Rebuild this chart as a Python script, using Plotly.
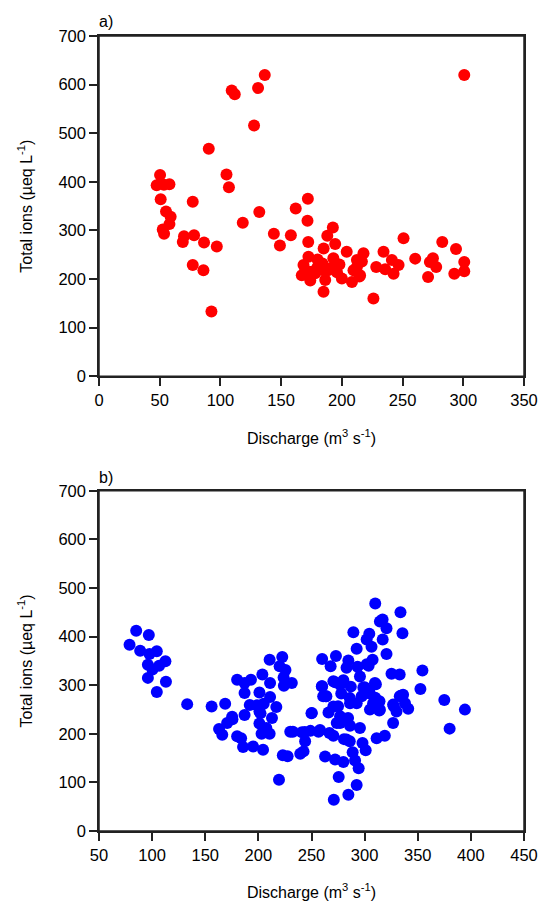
import plotly.graph_objects as go
from plotly.subplots import make_subplots

# Panel a) discharge (m3 s-1) and total ions (ueq L-1)
q_a = [300.8, 136.5, 131, 109.3, 111.8, 127.7, 90.4, 50.3, 47.5, 53.5, 58, 50.8, 105, 107,
       55.2, 59, 58, 52.5, 53.6, 77.2, 132, 118.4, 70, 69, 78.3, 86.5, 97, 77.2, 86, 92.6,
       144, 149, 158, 162, 172, 171.7, 172.3, 192.6, 188, 194.5, 185, 172.5, 180, 168.4,
       167, 174, 184.9, 190.4, 193, 204, 217.8, 212.4, 216.5, 208.3, 200, 186.3, 184.9,
       215, 178, 184, 170, 175, 228.3, 234.3, 241.2, 246.7, 242.6, 235.7, 250.8, 260.4,
       226, 275, 272.5, 277.7, 271, 282.7, 294, 300.8, 292.6, 300.8, 209.6, 214.5, 212.4,
       198, 180, 196, 188.5]
v_a = [620, 620, 593, 588, 580, 516, 468, 414, 393, 394, 395, 364, 415, 389,
       339, 328, 313, 302, 293, 359, 338, 316, 288, 276, 290, 275, 267, 229, 218, 133,
       293, 269, 290, 345, 365, 320, 276, 306, 289, 272, 263, 246, 240, 229,
       208, 197, 218, 222, 243, 256, 253, 225, 236, 194, 201, 198, 174,
       208, 212, 232, 218, 215, 225, 256, 239, 229, 211, 220, 284, 242,
       160, 243, 235, 225, 204, 276, 262, 235, 211, 216, 218, 205, 239,
       230, 225, 214, 218]

# Panel b)
q_b = [85, 96.9, 78.75, 88.75, 97.5, 104.4, 112.5, 96, 106.6, 100.3, 96, 113, 104.4,
       133, 156, 168.75, 163, 166, 170.6, 175.6,
       180, 187, 193, 203.75, 210.6, 222.5, 220, 225.5, 223.75, 224, 211,
       187, 201, 211, 191.9, 198.75, 205, 216.9, 201, 187, 212.8, 201, 207.5, 203, 210.6,
       180, 183.75, 185.6, 195, 204.4, 223, 227.5, 219.4, 230, 175.3, 202, 231.5,
       232.5, 243.75, 244, 256.6, 266.9, 239.4, 250, 241, 249, 258, 242.5, 262.8, 272.2,
       280, 291, 294.4, 275.6, 292.5, 284.7, 271, 288.75, 301, 298, 286, 280.6, 270.6, 283,
       266, 270.6, 261, 278, 286.25, 297.2, 308, 314.4, 326.8, 336.2, 326.8, 319, 311.3,
       295.6, 286.25, 276.9, 273.75, 276.9, 284.4, 305, 313.75, 292.5, 286, 264, 260, 275,
       250.3,
       310, 333.75, 316.9, 314.4, 320.6, 335.6, 289.4, 304.4, 301.9, 317, 306.5, 292.5,
       320.6, 307.5, 302, 303.75, 260, 273, 268, 284.7, 283, 293.3, 295.6, 270.6, 280, 277,
       272.2, 259.7, 309.7, 298.8, 287, 304, 310, 314, 304.4, 310.6, 300, 325.3, 333,
       354.4, 352.5, 334, 327.5, 341, 338, 330, 375, 380, 394.4, 333.1, 263.5]
v_b = [412, 403, 383, 371, 364, 370, 349, 342, 340, 332, 315, 307, 286,
       261, 256, 262, 210, 198, 222, 230,
       311, 304.5, 311, 322, 352.5, 358, 339, 331, 316, 299, 304.5,
       284, 285, 275.7, 259, 258.6, 262, 255, 246, 238.7, 232.5, 221, 212, 200, 200,
       195, 191, 173, 174, 167, 155.7, 153.6, 105.6, 204, 235, 242, 304.5,
       204.4, 203.7, 184.5, 204.4, 201.6, 159, 242, 203, 206, 208, 163.8, 153.5, 147,
       142, 145, 129, 111, 94.6, 74.8, 64.5, 162, 166, 181, 184.5, 189, 196, 188,
       244, 256, 277, 283, 263, 277, 263, 249.6, 260, 280.5, 222, 196, 191,
       212, 216.7, 222, 222, 236, 232.5, 249.7, 248, 263, 273.7, 277, 297.7, 256.5,
       243,
       468, 450, 435, 431, 417, 407, 409, 406, 394, 394, 379, 375,
       364, 352.5, 343, 340, 354, 360, 339, 351, 336, 338, 318, 308, 310, 301,
       306, 297.6, 304.5, 295, 297, 283.5, 274, 267, 287, 302, 295.6, 323.6, 322,
       330, 292, 278, 256.5, 251.7, 263, 246, 269.5, 210.6, 249.7, 277, 277]

y_ticks = [0, 100, 200, 300, 400, 500, 600, 700]
x_ticks_a = [0, 50, 100, 150, 200, 250, 300, 350]
x_ticks_b = [50, 100, 150, 200, 250, 300, 350, 400, 450]

FONT = "Liberation Sans, Arial, sans-serif"
LINE = "#222222"

fig = make_subplots(rows=2, cols=1, vertical_spacing=0.144)
fig.add_trace(go.Scatter(x=q_a, y=v_a, mode="markers",
                         marker=dict(color="#FF0000", size=12, line=dict(width=0)),
                         showlegend=False), row=1, col=1)
fig.add_trace(go.Scatter(x=q_b, y=v_b, mode="markers",
                         marker=dict(color="#0000FF", size=12, line=dict(width=0)),
                         showlegend=False), row=2, col=1)

axis_common = dict(showline=True, linecolor=LINE, linewidth=1.5, mirror=True,
                   ticks="outside", ticklen=8, tickwidth=1.5, tickcolor=LINE,
                   showgrid=False, zeroline=False, automargin=False,
                   tickfont=dict(family=FONT, size=16.5, color="black"))

xtitle = "Discharge (m<sup>3</sup> s<sup>-1</sup>)"
ytitle = "Total ions (µeq L<sup>-1</sup>)"
tfont = dict(family=FONT, size=16, color="black")

fig.update_xaxes(**axis_common, row=1, col=1, range=[0, 350], tickvals=x_ticks_a,
                 title=dict(text=xtitle, font=tfont, standoff=25))
fig.update_xaxes(**axis_common, row=2, col=1, range=[50, 450], tickvals=x_ticks_b,
                 title=dict(text=xtitle, font=tfont, standoff=24))
for r in (1, 2):
    fig.update_yaxes(**axis_common, row=r, col=1, range=[0, 700], tickvals=y_ticks,
                     title=dict(text=ytitle, font=tfont, standoff=22))

fig.update_layout(
    width=541, height=908,
    margin=dict(l=99, r=17, t=36, b=77, autoexpand=False),
    plot_bgcolor="white", paper_bgcolor="white",
    font=dict(family=FONT, size=16, color="black"),
)
fig.update_layout(yaxis=dict(domain=[0.572, 1.0]), yaxis2=dict(domain=[0.0, 0.428]))

# frame around each panel
for xr, yr in (("x", "y"), ("x2", "y2")):
    fig.add_shape(type="rect", xref=xr + " domain", yref=yr + " domain",
                  x0=0, x1=1, y0=0, y1=1, line=dict(color=LINE, width=1.5),
                  fillcolor="rgba(0,0,0,0)", layer="above")

fig.add_annotation(text="a)", xref="paper", yref="paper", x=-0.005, y=1.018,
                   xanchor="left", yanchor="middle", showarrow=False,
                   font=dict(family=FONT, size=16, color="black"))
fig.add_annotation(text="b)", xref="paper", yref="paper", x=-0.005, y=0.445,
                   xanchor="left", yanchor="middle", showarrow=False,
                   font=dict(family=FONT, size=16, color="black"))

fig.write_html("out.html", config={"displayModeBar": False},
               post_script="document.body.style.margin='0';document.body.style.overflow='hidden';")
